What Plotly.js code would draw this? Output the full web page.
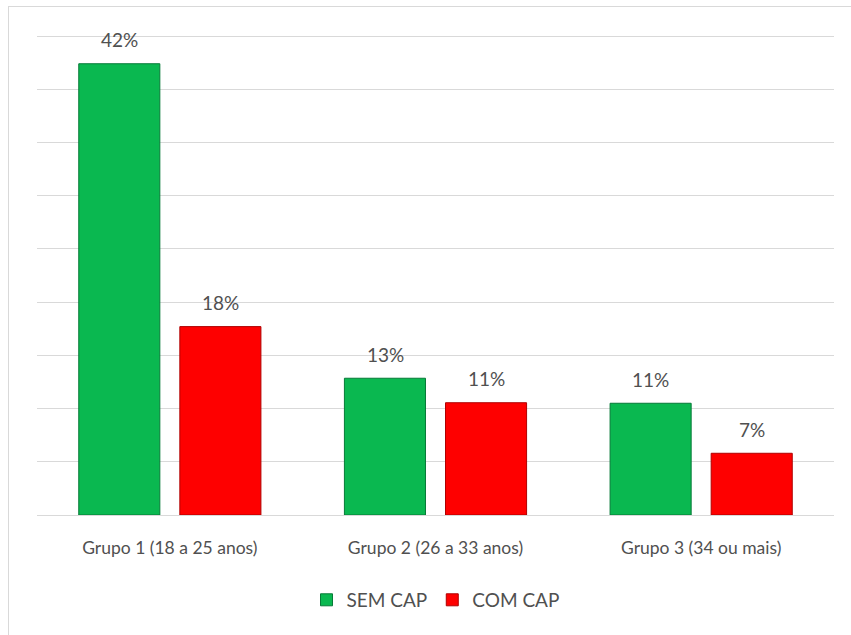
<!DOCTYPE html>
<html>
<head>
<meta charset="utf-8">
<script src="https://cdn.plot.ly/plotly-3.0.1.min.js"></script>
<style>
  html, body { margin: 0; padding: 0; background: #fff; overflow: hidden; }
  #chart { width: 851px; height: 635px; }
  #frame { position: absolute; left: 8px; top: 6px; width: 860px; height: 700px;
           border: 1px solid #d9d9d9; pointer-events: none; box-sizing: border-box; }
</style>
</head>
<body>
<div id="chart"></div>
<div id="frame"></div>
<script>
const categories = ["Grupo 1 (18 a 25 anos)", "Grupo 2 (26 a 33 anos)", "Grupo 3 (34 ou mais)"];
const semCap = [42.4, 12.85, 10.5];
const comCap = [17.7, 10.55, 5.8];
const semCapLabels = ["42%", "13%", "11%"];
const comCapLabels = ["18%", "11%", "7%"];
const seriesNames = ["SEM CAP", "COM CAP"];

const FONT = "Lato, 'Open Sans', sans-serif";
const TXT = "#505050";

const traces = [
  {
    type: "bar", name: seriesNames[0], x: categories, y: semCap,
    marker: { color: "#0ab850", line: { color: "#067a37", width: 1 } },
    hoverinfo: "skip"
  },
  {
    type: "bar", name: seriesNames[1], x: categories, y: comCap,
    marker: { color: "#fe0000", line: { color: "#b00000", width: 1 } },
    hoverinfo: "skip"
  }
];

const annotations = [];
categories.forEach((c, i) => {
  annotations.push({ x: c, y: semCap[i], xref: "x", yref: "y", text: semCapLabels[i],
    showarrow: false, xshift: -50.5, yshift: 24, yanchor: "middle",
    font: { family: FONT, size: 19, color: TXT } });
  annotations.push({ x: c, y: comCap[i], xref: "x", yref: "y", text: comCapLabels[i],
    showarrow: false, xshift: 50.5, yshift: 24, yanchor: "middle",
    font: { family: FONT, size: 19, color: TXT } });
});

const layout = {
  width: 851, height: 635,
  margin: { l: 37, r: 17, t: 35, b: 120 },
  paper_bgcolor: "#ffffff", plot_bgcolor: "#ffffff",
  barmode: "group", bargap: 0.239, bargroupgap: 0.198,
  showlegend: true,
  legend: { orientation: "h", x: 0.5, xanchor: "center", y: -0.177, yanchor: "middle",
            font: { family: FONT, size: 19, color: TXT }, itemclick: false, itemwidth: 30 },
  xaxis: { type: "category", showgrid: false, zeroline: false, showline: false, ticks: "",
           ticklabelstandoff: 20,
           tickfont: { family: FONT, size: 17.5, color: TXT } },
  yaxis: { range: [0, 45.1], dtick: 5, showgrid: true, gridcolor: "#d9d9d9", gridwidth: 1,
           zeroline: true, zerolinecolor: "#d9d9d9", zerolinewidth: 1,
           showticklabels: false, ticks: "" },
  annotations: annotations,
  font: { family: FONT, color: TXT }
};

Plotly.newPlot("chart", traces, layout, { displayModeBar: false, staticPlot: true });
</script>
</body>
</html>
